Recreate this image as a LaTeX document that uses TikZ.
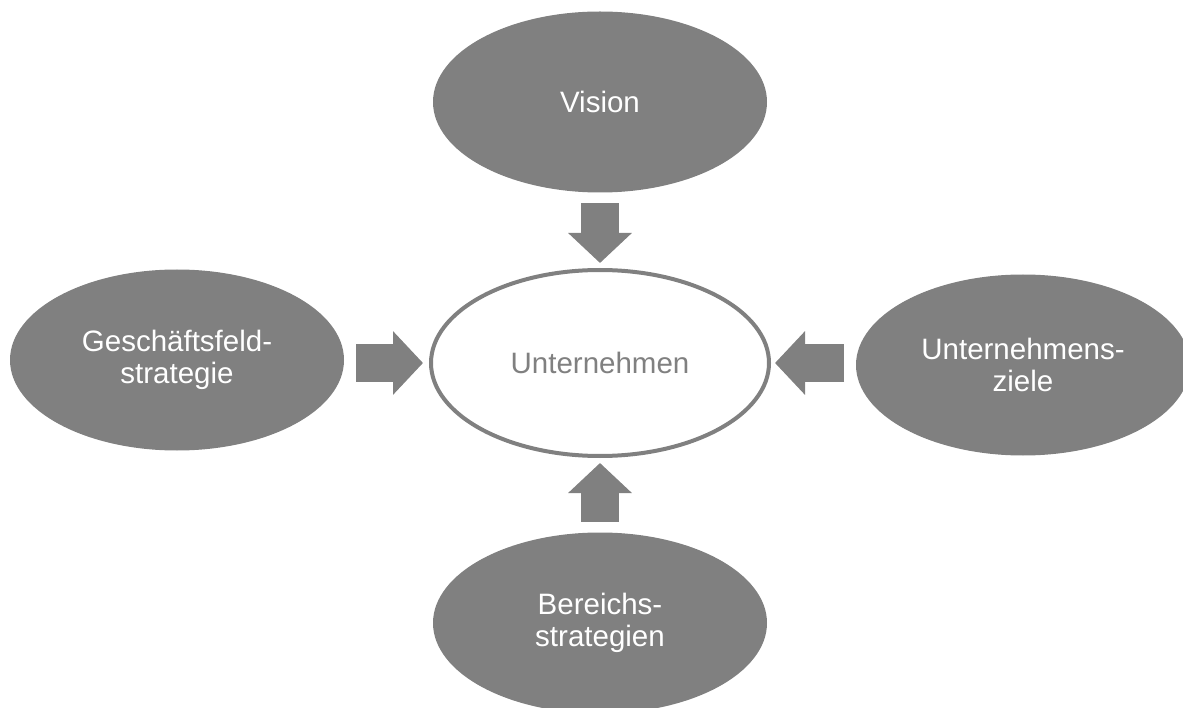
\documentclass[tikz,border=0pt]{standalone}
\usepackage{fontspec}
\setmainfont{Liberation Sans}
\usetikzlibrary{shapes.geometric,arrows.meta}
\definecolor{bubble}{RGB}{128,128,128}
\tikzset{
  darkell/.style={ellipse, fill=bubble, draw=none, inner sep=0pt, outer sep=0pt,
    minimum width=334pt, minimum height=181pt, text=white, align=center,
    font=\fontsize{29.5}{32}\selectfont},
  coreell/.style={ellipse, fill=white, draw=bubble, line width=4pt, inner sep=0pt,
    minimum width=338pt, minimum height=186pt, text=bubble, align=center,
    font=\fontsize{29.5}{32}\selectfont},
  blockarrow/.style={draw=bubble, line width=38pt, line cap=butt,
    -{Triangle[length=30pt,width=62pt]}}
}
\begin{document}
\begin{tikzpicture}[x=1pt,y=-1pt]
\useasboundingbox (0,0) rectangle (1183,708);
\clip (0,0) rectangle (1183,708);
\node[coreell] (core) at (600,363) {Unternehmen};
\node[darkell] (vision) at (600,102) {Vision};
\node[darkell] (left) at (177,360) {Geschäftsfeld-\\strategie};
\node[darkell] (right) at (1023,365) {Unternehmens-\\ziele};
\node[darkell] (bottom) at (600,623) {Bereichs-\\strategien};
\draw[blockarrow, shorten <=11pt, shorten >=5pt] (vision.south) -- (core.north);
\draw[blockarrow, shorten <=11pt, shorten >=5pt] (bottom.north) -- (core.south);
\draw[blockarrow, shorten <=12pt, shorten >=6pt] (left.east |- core) -- (core.west);
\draw[blockarrow, shorten <=12pt, shorten >=4pt] (right.west |- core) -- (core.east);
\end{tikzpicture}
\end{document}
